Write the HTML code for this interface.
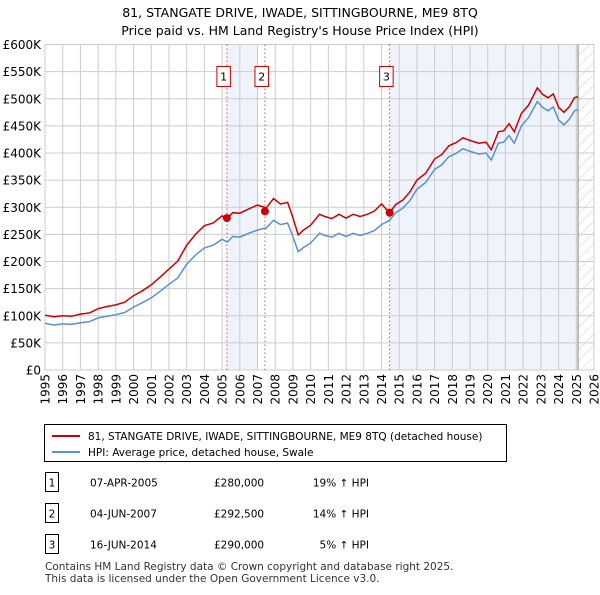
<!DOCTYPE html>
<html><head><meta charset="utf-8"><style>
body{margin:0;background:#fff;font-family:"Liberation Sans","DejaVu Sans",sans-serif;}
svg text{font-family:"DejaVu Sans","Liberation Sans",sans-serif;}
</style></head><body>
<svg id="c" width="600" height="590" xmlns="http://www.w3.org/2000/svg">
<text x="300" y="17" text-anchor="middle" font-size="12.5">81, STANGATE DRIVE, IWADE, SITTINGBOURNE, ME9 8TQ</text>
<text x="300" y="35" text-anchor="middle" font-size="12.5">Price paid vs. HM Land Registry's House Price Index (HPI)</text>
<g id="plot"></g>
<g>
<rect x="44.5" y="424.5" width="462" height="37" fill="#fff" stroke="#000"/>
<line x1="52" y1="436" x2="80" y2="436" stroke="#cc0000" stroke-width="2"/>
<text x="88" y="440" font-size="10.5">81, STANGATE DRIVE, IWADE, SITTINGBOURNE, ME9 8TQ (detached house)</text>
<line x1="52" y1="452" x2="80" y2="452" stroke="#5b8ed6" stroke-width="2"/>
<text x="88" y="456" font-size="10.5">HPI: Average price, detached house, Swale</text>
</g>
<g id="table" font-size="10.5"></g>
<text x="45" y="570" font-size="10.5" fill="#333">Contains HM Land Registry data © Crown copyright and database right 2025.</text>
<text x="45" y="582" font-size="10.5" fill="#333">This data is licensed under the Open Government Licence v3.0.</text>
</svg>
<script>
const dates=[1995.0,1995.5,1996.0,1996.5,1997.0,1997.5,1998.0,1998.5,1999.0,1999.5,2000.0,2000.5,2001.0,2001.5,2002.0,2002.5,2003.0,2003.5,2004.0,2004.5,2005.0,2005.3,2005.6,2006.0,2006.5,2007.0,2007.5,2007.9,2008.3,2008.7,2009.0,2009.3,2009.6,2010.0,2010.5,2010.8,2011.2,2011.6,2012.0,2012.4,2012.8,2013.2,2013.6,2014.0,2014.46,2014.8,2015.2,2015.6,2016.0,2016.5,2017.0,2017.4,2017.8,2018.2,2018.6,2019.0,2019.5,2019.9,2020.2,2020.6,2020.9,2021.2,2021.5,2021.9,2022.3,2022.8,2023.1,2023.4,2023.7,2024.0,2024.3,2024.6,2024.9,2025.1];
const hpi=[86,83,85,84,87,89,96,99,102,106,116,124,133,145,158,170,195,212,225,230,241,236,246,245,252,258,262,276,268,271,246,218,226,234,252,248,245,252,246,252,248,252,257,268,276,290,298,312,333,346,370,378,393,399,408,403,398,400,387,418,420,432,418,450,465,495,484,478,485,461,452,462,478,480];
const price=[101,98,100,99,103,105,113,117,120,125,137,146,157,171,186,201,230,250,266,271,284,280,290,289,297,304,299,316,306,309,281,249,258,267,287,283,279,287,280,287,283,287,293,306,290,305,313,328,350,363,389,397,413,419,428,423,418,420,406,439,441,454,439,473,488,520,508,502,509,484,475,485,502,504];
const saleDates=[2005.27,2007.42,2014.46];
const saleLabels=["1","2","3"];
const salePrices=[280,292.5,290];
const saleDateText=["07-APR-2005","04-JUN-2007","16-JUN-2014"];
const salePriceText=["£280,000","£292,500","£290,000"];
const saleHpiText=["19% ↑ HPI","14% ↑ HPI","5% ↑ HPI"];
const yTicks=[0,50,100,150,200,250,300,350,400,450,500,550,600];
const yTickLabels=["£0","£50K","£100K","£150K","£200K","£250K","£300K","£350K","£400K","£450K","£500K","£550K","£600K"];
const xTicks=[];for(let y=1995;y<=2026;y++)xTicks.push(y);
const X0=45,X1=594,Y0=370,Y1=44.5;
const xs=v=>X0+(v-1995)/(2026-1995)*(X1-X0);
const ys=v=>Y0-v/600*(Y0-Y1);
const NS="http://www.w3.org/2000/svg";
const g=document.getElementById('plot');
function mk(t,a,p){const e=document.createElementNS(NS,t);for(const k in a)e.setAttribute(k,a[k]);(p||g).appendChild(e);return e;}
let r=mk('rect',{x:xs(saleDates[0]),y:Y1,width:xs(2007.03)-xs(saleDates[0]),height:Y0-Y1,fill:'#eef3fc'});


r=mk('rect',{x:xs(saleDates[2]),y:Y1,width:xs(2025.1)-xs(saleDates[2]),height:Y0-Y1,fill:'#eef3fc'});


const defs=mk('defs',{});
const pat=mk('pattern',{id:'h',width:8,height:8,patternUnits:'userSpaceOnUse',patternTransform:'rotate(45)'},defs);
mk('line',{x1:0,y1:0,x2:0,y2:8,stroke:'#ccc','stroke-width':1},pat);
r=mk('rect',{x:xs(2025.1),y:Y1,width:X1-xs(2025.1),height:Y0-Y1,fill:'url(#h)'});


yTicks.forEach((v,i)=>{
 const l=mk('line',{x1:X0,x2:X1,y1:ys(v),y2:ys(v),stroke:'#cccccc'});
 
 
 const t=mk('text',{x:X0-4,y:ys(v)+4.5,'text-anchor':'end','font-size':'12'});
 t.textContent=yTickLabels[i];
 
 
});
xTicks.forEach(v=>{
 const l=mk('line',{x1:xs(v),x2:xs(v),y1:Y1,y2:Y0,stroke:'#cccccc'});
 
 
 const t=mk('text',{x:0,y:0,'text-anchor':'end','font-size':'12',transform:`translate(${xs(v)+4.5},${Y0+4}) rotate(-90)`});
 t.textContent=v;
 
 
});
let el=mk('line',{x1:xs(2025.1),x2:xs(2025.1),y1:Y1,y2:Y0,stroke:'#888'});


saleDates.forEach((d,i)=>{
 const l=mk('line',{x1:xs(d),x2:xs(d),y1:Y1,y2:Y0,stroke:'#e05050','stroke-dasharray':'1.5,2.5'});
 
 
 const b=mk('rect',{x:xs(d)-10,y:66.5,width:13.5,height:20,fill:'#fff',stroke:'#cc0000'});
 
 
 const t=mk('text',{x:xs(d)-3.25,y:80.5,'text-anchor':'middle','font-size':'11'});
 t.textContent=saleLabels[i];
 
 
});
const path=arr=>arr.map((v,i)=>(i?'L':'M')+xs(dates[i]).toFixed(1)+','+ys(v).toFixed(1)).join('');
let p=mk('path',{d:path(hpi),fill:'none',stroke:'#5b8ed6','stroke-width':1.5});


p=mk('path',{d:path(price),fill:'none',stroke:'#cc0000','stroke-width':1.5});


saleDates.forEach((d,i)=>{
 const c=mk('circle',{cx:xs(d),cy:ys(salePrices[i]),r:4,fill:'#cc0000'});
 
 
});
const tb=document.getElementById('table');
saleLabels.forEach((s,i)=>{
 const y=483+i*31;
 const b=mk('rect',{x:45.5,y:y-10.5,width:13,height:19,fill:'#fff',stroke:'#000'},tb);
 
 
 const cells=[[52,s,'middle'],[90,saleDateText[i],'start'],[214,salePriceText[i],'start'],[369,saleHpiText[i],'end']];
 cells.forEach(c=>{
  const t=mk('text',{x:c[0],y:y+3.5,'text-anchor':c[2]},tb);
  t.textContent=c[1];
  
  
 });
});
</script>
</body></html>
